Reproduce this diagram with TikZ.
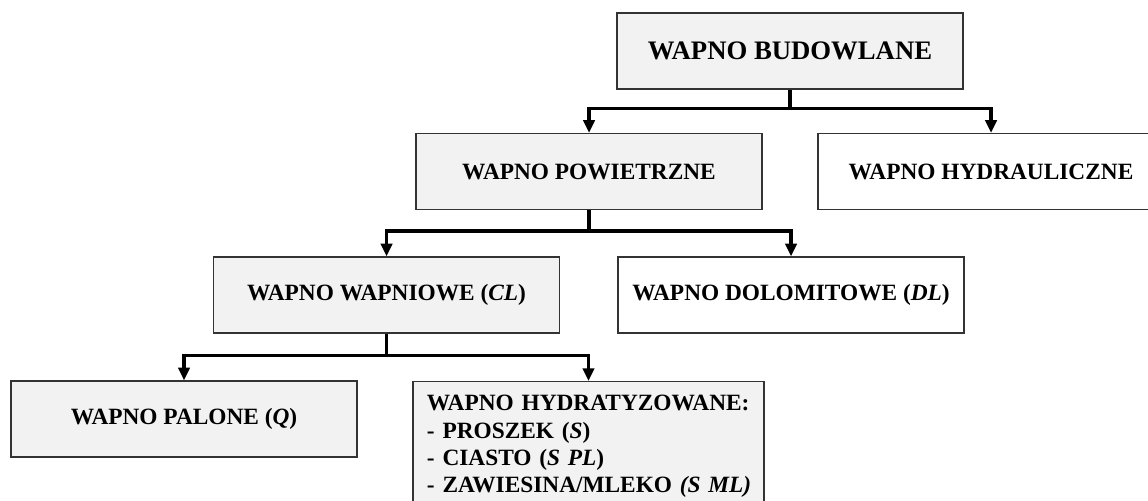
\documentclass[tikz,border=0pt]{standalone}
\usepackage{fontspec}
\setmainfont{Liberation Serif}
\usetikzlibrary{arrows.meta}

\begin{document}
\begin{tikzpicture}[x=0.025cm, y=-0.025cm,
    box/.style={draw=black!80, line width=0.9pt, fill=gray!10, minimum width=8.65cm,
        minimum height=1.9cm, inner sep=0pt, font=\fontsize{16.6}{19.5}\selectfont\bfseries},
    whitebox/.style={box, fill=white},
    stem/.style={line width=2.6pt},
    link/.style={line width=2.6pt, -{Triangle[length=9pt,width=8pt]}}]
    \useasboundingbox (0,0) rectangle (1148,500);
    \clip (0,0) rectangle (1148,500);
    % boxes
    \node[box, font=\fontsize{19}{22}\selectfont\bfseries] (bud) at (790,51) {WAPNO BUDOWLANE};
    \node[box] (pow) at (589,171.5) {WAPNO POWIETRZNE};
    \node[whitebox] (hyd) at (991,171.5) {WAPNO HYDRAULICZNE};
    \node[box] (wap) at (386.5,295) {WAPNO WAPNIOWE (\textit{CL})};
    \node[whitebox] (dol) at (791,295) {WAPNO DOLOMITOWE (\textit{DL})};
    \node[box] (pal) at (184,419) {WAPNO PALONE (\textit{Q})};
    \node[box, anchor=north, text width=8.075cm, align=left, inner xsep=0.35cm, inner ysep=0.34cm] (hydr) at (588.5,381) {WAPNO HYDRATYZOWANE:\\
        - PROSZEK (\textit{S})\\
        - CIASTO (\textit{S PL})\\
        \mbox{- ZAWIESINA/MLEKO \textit{(S ML)}}};
    % connectors
    \draw[stem] (bud.south) -- ++(0,19) coordinate (j1);
    \draw[link] (j1) -| (pow.north);
    \draw[link] (j1) -| (hyd.north);
    \draw[stem] (pow.south) -- ++(0,21) coordinate (j2);
    \draw[link] (j2) -| (wap.north);
    \draw[link] (j2) -| (dol.north);
    \draw[stem] (wap.south) -- ++(0,22) coordinate (j3);
    \draw[link] (j3) -| (pal.north);
    \draw[link] (j3) -| (hydr.north);
\end{tikzpicture}
\end{document}
